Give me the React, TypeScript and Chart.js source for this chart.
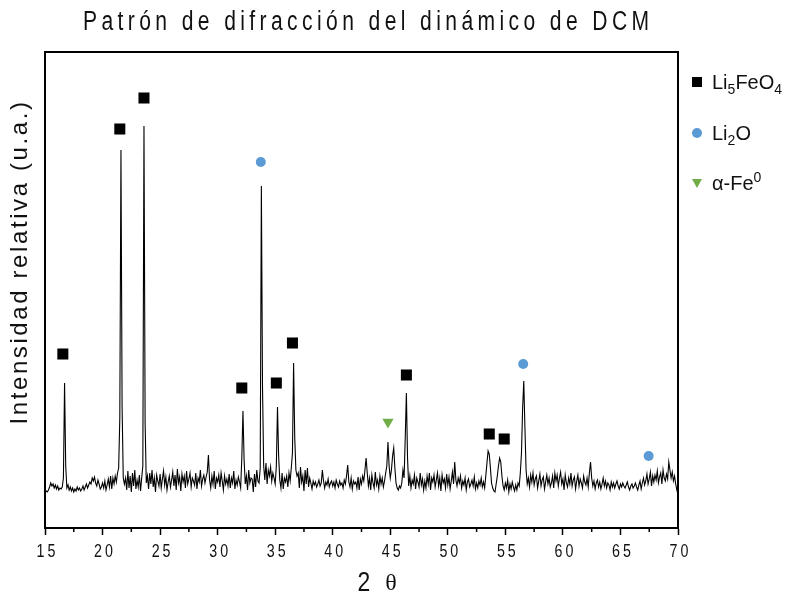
import React, { useEffect, useRef } from 'react';
import { Chart, registerables } from 'chart.js';

Chart.register(...registerables);

const TITLE = 'Patrón de difracción del dinámico de DCM';
const X_TITLE_NUM = '2';
const X_TITLE_SYM = 'θ';
const Y_TITLE = 'Intensidad relativa (u.a.)';

// 2θ sampling grid of the scan
const X_START = 15;
const X_STEP = 0.1;

// relative intensity, one row per degree (x.0 … x.9)
const intensity: number[] = [
  36, 37, 36, 38, 41, 45, 42, 44, 40, 43, // 15
  39, 42, 38, 40, 39, 41, 50, 145, 62, 40, // 16
  43, 38, 41, 37, 40, 36, 39, 37, 41, 38, // 17
  40, 37, 39, 42, 38, 41, 44, 40, 43, 46, // 18
  44, 50, 47, 51, 45, 42, 48, 44, 39, 41, // 19
  45, 40, 47, 38, 43, 49, 41, 52, 39, 50, // 20
  44, 52, 46, 55, 60, 110, 378, 120, 50, 44, // 21
  50, 38, 57, 40, 52, 36, 55, 42, 58, 39, // 22
  48, 41, 53, 37, 50, 62, 402, 105, 45, 52, // 23
  39, 55, 44, 58, 41, 50, 36, 53, 47, 42, // 24
  54, 40, 49, 57, 43, 51, 38, 46, 52, 41, // 25
  48, 56, 42, 53, 38, 59, 45, 51, 37, 54, // 26
  46, 52, 40, 57, 44, 49, 55, 41, 50, 47, // 27
  43, 55, 39, 50, 46, 58, 42, 49, 53, 45, // 28
  51, 56, 73, 48, 40, 52, 44, 57, 39, 50, // 29
  46, 53, 41, 55, 47, 38, 52, 44, 49, 42, // 30
  54, 40, 50, 45, 57, 39, 48, 43, 51, 46, // 31
  40, 70, 117, 68, 44, 52, 38, 58, 45, 50, // 32
  49, 36, 54, 41, 58, 47, 45, 60, 342, 140, // 33
  62, 48, 65, 44, 58, 52, 61, 47, 55, 50, // 34
  44, 62, 121, 72, 48, 40, 55, 39, 50, 46, // 35
  52, 41, 55, 47, 60, 75, 165, 90, 58, 52, // 36
  55, 40, 61, 46, 52, 37, 58, 44, 60, 41, // 37
  50, 45, 39, 47, 43, 46, 41, 44, 48, 42, // 38
  45, 58, 47, 40, 46, 43, 49, 41, 45, 47, // 39
  42, 46, 40, 48, 44, 41, 47, 43, 45, 40, // 40
  48, 44, 52, 63, 46, 41, 50, 39, 47, 44, // 41
  46, 40, 51, 38, 49, 44, 52, 47, 58, 70, // 42
  55, 42, 50, 38, 53, 45, 40, 56, 43, 48, // 43
  39, 52, 44, 50, 41, 47, 55, 62, 86, 62, // 44
  50, 58, 72, 80, 60, 45, 40, 38, 42, 40, // 45
  45, 58, 50, 90, 135, 70, 42, 52, 40, 48, // 46
  44, 53, 39, 50, 46, 41, 55, 43, 49, 38, // 47
  47, 40, 52, 44, 55, 38, 50, 46, 53, 41, // 48
  48, 55, 42, 50, 37, 53, 45, 49, 40, 54, // 49
  43, 51, 39, 47, 56, 44, 66, 48, 42, 50, // 50
  45, 52, 40, 47, 43, 50, 38, 46, 49, 41, // 51
  44, 48, 42, 51, 39, 45, 40, 47, 43, 50, // 52
  41, 46, 40, 52, 65, 77, 74, 60, 45, 40, // 53
  37, 36, 44, 52, 62, 70, 66, 52, 42, 38, // 54
  45, 40, 48, 36, 44, 39, 46, 41, 37, 43, // 55
  38, 45, 42, 55, 75, 120, 147, 100, 58, 44, // 56
  50, 41, 53, 46, 55, 43, 49, 52, 40, 47, // 57
  54, 42, 48, 51, 39, 46, 53, 44, 50, 41, // 58
  45, 52, 40, 55, 47, 53, 42, 50, 56, 44, // 59
  49, 38, 53, 45, 41, 50, 44, 55, 42, 48, // 60
  51, 39, 47, 53, 42, 49, 45, 40, 52, 46, // 61
  43, 50, 41, 55, 66, 50, 42, 47, 39, 45, // 62
  48, 41, 46, 39, 44, 50, 42, 47, 40, 45, // 63
  43, 38, 46, 41, 45, 40, 44, 47, 42, 39, // 64
  44, 41, 45, 42, 40, 43, 46, 41, 38, 42, // 65
  44, 40, 42, 45, 41, 38, 43, 47, 39, 45, // 66
  50, 43, 47, 54, 44, 49, 56, 42, 52, 46, // 67
  53, 48, 57, 45, 51, 55, 44, 58, 50, 47, // 68
  54, 49, 66, 58, 50, 56, 47, 52, 44, 38, // 69
  34, // 70
];

// phase markers (position, height of symbol)
const li5feo4X = [16.55, 21.5, 23.6, 32.1, 35.1, 36.5, 46.4, 53.6, 54.9];
const li5feo4Y = [174, 399, 430, 140, 145, 185, 153, 94, 89];
const li2oX = [33.75, 56.55, 67.45];
const li2oY = [366, 164, 72];
const feX = [44.8];
const feY = [106];

const X_MIN = 15;
const X_MAX = 70;
const Y_MIN = 0;
const Y_MAX = 476;
const MAJOR_STEP = 5;
const MINOR_TICKS = [17.5, 22.5, 27.5, 32.5, 37.5, 42.5, 47.5, 52.5, 57.5, 62.5, 67.5];

const BLUE = '#5B9BD5';
const GREEN = '#70AD47';
const SANS = '"Liberation Sans", Arial, sans-serif';

// draw condensed, letter-spaced text (emulates a narrow font)
function narrowText(ctx: any, s: string, x: number, y: number, size: number, sx: number, spacing: number) {
  ctx.save();
  ctx.translate(x, y);
  ctx.scale(sx, 1);
  ctx.font = `${size}px ${SANS}`;
  ctx.letterSpacing = `${spacing / sx}px`;
  ctx.textAlign = 'left';
  const w = ctx.measureText(s).width - spacing / sx;
  ctx.fillText(s, -w / 2, 0);
  ctx.restore();
}

const decor = {
  id: 'decor',
  afterDraw(chart: any) {
    const { ctx, chartArea: a, scales } = chart;
    const x = scales.x;
    ctx.save();
    ctx.strokeStyle = '#000';
    ctx.lineWidth = 2;
    ctx.strokeRect(a.left, a.top, a.right - a.left, a.bottom - a.top);
    ctx.lineWidth = 1.5;
    for (const v of MINOR_TICKS) {
      const px = x.getPixelForValue(v);
      ctx.beginPath();
      ctx.moveTo(px, a.bottom);
      ctx.lineTo(px, a.bottom + 4);
      ctx.stroke();
    }
    ctx.fillStyle = '#111';
    ctx.textBaseline = 'middle';
    // tick labels from the scale's ticks
    for (const t of x.ticks) {
      narrowText(ctx, String(t.value), x.getPixelForValue(t.value) + 1, a.bottom + 24, 19, 0.75, 3);
    }
    // title
    narrowText(ctx, TITLE, 366, 23, 27, 0.78, 4.4);
    // x title
    ctx.letterSpacing = '0px';
    narrowText(ctx, X_TITLE_NUM, 364, 584, 27, 0.85, 0);
    ctx.textAlign = 'center';
    ctx.font = `24px "Liberation Serif", "DejaVu Serif", serif`;
    ctx.fillText(X_TITLE_SYM, 391, 584);
    // y title
    ctx.translate(20, 262);
    ctx.rotate(-Math.PI / 2);
    ctx.textAlign = 'center';
    ctx.font = `24px ${SANS}`;
    ctx.letterSpacing = '2.6px';
    ctx.fillText(Y_TITLE, 0, 0);
    ctx.restore();
  },
};

function Legend() {
  const item = { position: 'absolute' as const, left: 0, display: 'flex', alignItems: 'center' };
  const text = { fontFamily: SANS, fontSize: 20, color: '#111', marginLeft: 10, lineHeight: '22px' };
  const sub = { fontSize: 14, verticalAlign: '-5px', lineHeight: 0 };
  const sup = { fontSize: 14, verticalAlign: '8px', lineHeight: 0 };
  return (
    <div style={{ position: 'absolute', left: 692, top: 0, width: 99, height: 200 }}>
      <div style={{ ...item, top: 71 }}>
        <span style={{ width: 10, height: 10, background: '#000', display: 'inline-block' }} />
        <span style={text}>
          Li<span style={sub}>5</span>FeO<span style={sub}>4</span>
        </span>
      </div>
      <div style={{ ...item, top: 122 }}>
        <span style={{ width: 10, height: 10, borderRadius: 5, background: BLUE, display: 'inline-block' }} />
        <span style={text}>
          Li<span style={sub}>2</span>O
        </span>
      </div>
      <div style={{ ...item, top: 172 }}>
        <span
          style={{
            width: 0,
            height: 0,
            borderLeft: '5px solid transparent',
            borderRight: '5px solid transparent',
            borderTop: '9px solid ' + GREEN,
            display: 'inline-block',
          }}
        />
        <span style={text}>
          α-Fe<span style={sup}>0</span>
        </span>
      </div>
    </div>
  );
}

export default function App() {
  const ref = useRef<HTMLCanvasElement>(null);

  useEffect(() => {
    if (!ref.current) return;
    const line = intensity.map((y, i) => ({ x: X_START + i * X_STEP, y }));
    const pts = (xs: number[], ys: number[]) => xs.map((x, i) => ({ x, y: ys[i] }));
    const chart = new Chart(ref.current, {
      type: 'scatter',
      data: {
        datasets: [
          {
            label: 'Li5FeO4',
            data: pts(li5feo4X, li5feo4Y),
            pointStyle: 'rect',
            pointRadius: 7.8,
            backgroundColor: '#000',
            borderWidth: 0,
            showLine: false,
            order: 0,
          },
          {
            label: 'Li2O',
            data: pts(li2oX, li2oY),
            pointStyle: 'circle',
            pointRadius: 5,
            backgroundColor: BLUE,
            borderWidth: 0,
            showLine: false,
            order: 0,
          },
          {
            label: 'α-Fe0',
            data: pts(feX, feY),
            pointStyle: 'triangle',
            rotation: 180,
            pointRadius: 6.5,
            backgroundColor: GREEN,
            borderWidth: 0,
            showLine: false,
            order: 0,
          },
          {
            label: 'DRX',
            data: line,
            showLine: true,
            borderColor: '#000',
            borderWidth: 1.1,
            pointRadius: 0,
            fill: false,
            tension: 0,
            order: 1,
          },
        ],
      },
      options: {
        responsive: false,
        animation: false,
        layout: { padding: { top: 52, right: 113, left: 0, bottom: 0 } },
        plugins: {
          legend: { display: false },
          title: { display: false },
          tooltip: { enabled: false },
        },
        scales: {
          x: {
            type: 'linear',
            min: X_MIN,
            max: X_MAX,
            afterFit: (s: any) => {
              s.height = 70;
            },
            afterBuildTicks: (s: any) => {
              const t = [];
              for (let v = X_MIN; v <= X_MAX; v += MAJOR_STEP) t.push({ value: v });
              s.ticks = t;
            },
            ticks: {
              color: 'rgba(0,0,0,0)',
              font: { size: 18 },
              padding: 5,
              maxRotation: 0,
              autoSkip: false,
            },
            grid: { drawOnChartArea: false, drawTicks: true, tickLength: 7, tickWidth: 1.5, tickColor: '#000' },
            border: { display: true, color: '#000', width: 2 },
          },
          y: {
            min: Y_MIN,
            max: Y_MAX,
            afterFit: (s: any) => {
              s.width = 45;
            },
            ticks: { display: false },
            grid: { display: false, drawTicks: false },
            border: { display: true, color: '#000', width: 2 },
          },
        },
      },
      plugins: [decor],
    });
    return () => chart.destroy();
  }, []);

  return (
    <div style={{ position: 'fixed', left: 0, top: 0, width: 791, height: 598, background: '#fff' }}>
      <canvas ref={ref} width={791} height={598} style={{ display: 'block' }} />
      <Legend />
    </div>
  );
}
